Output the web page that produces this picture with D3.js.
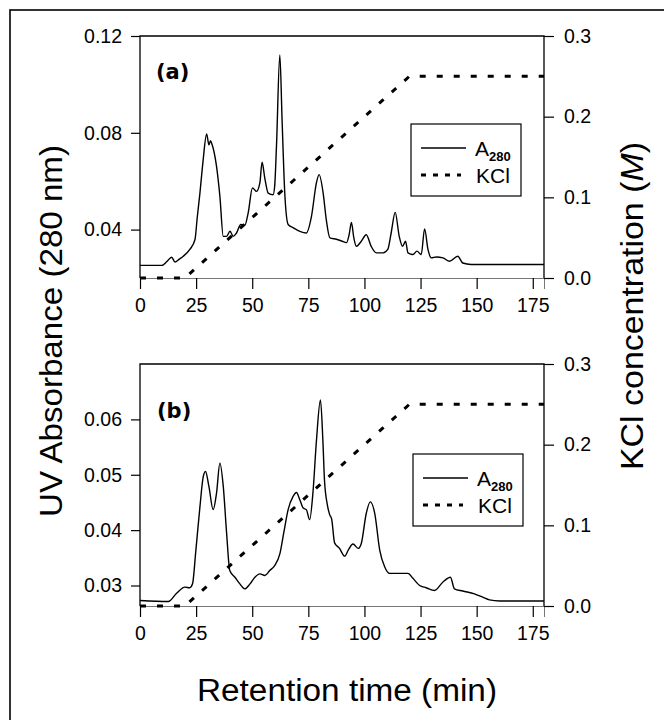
<!DOCTYPE html>
<html><head><meta charset="utf-8">
<script src="https://cdn.jsdelivr.net/npm/d3@7"></script>
<style>body{margin:0;background:#fff}svg{display:block}text{font-family:"Liberation Sans",Arial,sans-serif;fill:#000}</style>
</head><body><svg id="c" width="664" height="720"></svg>
<script>
// ---- data ----
const timeA = [0,9.7,12,14.1,15.6,17.5,19.3,22.2,24.5,25.5,26.7,28,29.7,30.7,31.4,32,34.1,35.6,37.1,38.6,40.1,41.5,43,44.9,46.7,48.2,50.1,51.9,53.4,54.4,55.6,57.1,59.3,60,60.8,62.3,63.3,64.5,66,68.2,71.2,74.1,76.4,78.6,79.8,81.6,83,84.6,87.5,89.8,92,93.2,94.2,95.2,96.4,98.6,100.8,103,105.3,108.3,110.4,111.9,113.7,115.5,117,118.3,119.4,121.6,123.4,125.3,126.8,128.3,129.8,132,135,137.9,141.6,143.8,147.5,180];
const absA = [0.0252,0.0252,0.0268,0.0286,0.0266,0.0278,0.029,0.0318,0.0359,0.045,0.0551,0.0675,0.0795,0.075,0.0767,0.0755,0.0661,0.0537,0.0372,0.0372,0.0393,0.0372,0.0386,0.0421,0.0418,0.0469,0.0572,0.0558,0.0593,0.0678,0.0613,0.0551,0.0544,0.0579,0.0743,0.1122,0.0854,0.0551,0.0421,0.0408,0.0393,0.0386,0.0455,0.0593,0.0627,0.0551,0.0441,0.0366,0.036,0.0353,0.0346,0.038,0.043,0.037,0.0331,0.0352,0.0379,0.0331,0.0304,0.0304,0.0318,0.0386,0.0471,0.0372,0.0331,0.0352,0.0304,0.0297,0.0311,0.0297,0.0403,0.0318,0.0283,0.0287,0.0283,0.0269,0.029,0.0262,0.0256,0.0256];
const timeB = [0,12.6,16.3,20,22.2,23.4,24.9,26.7,28.2,29.2,30.7,32.6,34.1,35.6,37.1,38.6,40,42.3,44.5,46.7,49,51.2,53.4,55.6,57.8,60,62.3,64,66,68.2,69.7,71.2,72.7,74.1,75.6,77.1,78.6,80.4,81.5,82.2,83.5,84.5,85.4,86.7,88.9,91.2,92.9,94.9,97.2,98.6,100.8,102.6,104.6,106.8,109,111.2,119.4,121.6,124.6,127.5,131.2,134.9,138.3,140.1,143.8,149,152.7,155.7,160.2,180];
const absB = [0.0273,0.0271,0.0286,0.0297,0.0296,0.0303,0.0364,0.0442,0.0497,0.0506,0.0479,0.0437,0.0467,0.0521,0.0479,0.0394,0.0327,0.0315,0.0303,0.0294,0.0303,0.0315,0.0321,0.0318,0.0327,0.0336,0.0357,0.0394,0.0437,0.0461,0.0468,0.0455,0.044,0.0437,0.0419,0.047,0.0561,0.0635,0.056,0.049,0.0445,0.0428,0.042,0.0377,0.0367,0.0353,0.0365,0.0375,0.0367,0.0376,0.043,0.0451,0.043,0.0364,0.0334,0.0322,0.0322,0.0313,0.03,0.0296,0.0291,0.0306,0.0315,0.0294,0.029,0.0285,0.0279,0.0274,0.0272,0.0272];
const kclTime = [0,20,120,180];
const kclConc = [0,0,0.25,0.25];
const xTicks = [0,25,50,75,100,125,150,175];
const leftTicksA = [0.04,0.08,0.12];
const leftTicksB = [0.03,0.04,0.05,0.06];
const rightTicks = [0,0.1,0.2,0.3];
const leftDomA = [0.02,0.12];
const leftDomB = [0.0263,0.07];
const rightDom = [0,0.3];
const panelLabels = ["(a)","(b)"];
const legendLabels = ["A","280","KCl"];

// ---- drawing ----
const svg = d3.select("#c");
svg.append("rect").attr("x",10).attr("y",10).attr("width",720).attr("height",760)
  .attr("fill","none").attr("stroke","#000").attr("stroke-width",1.6);

const x0 = 140, x1 = 544;
const x = d3.scaleLinear().domain([0,180]).range([x0,x1]);

const panels = [
  {top:36, bot:278, dom:leftDomA, ticks:leftTicksA, t:timeA, v:absA, lab:panelLabels[0], labX:156, labY:79, leg:{x:411,y:124}},
  {top:364, bot:606, dom:leftDomB, ticks:leftTicksB, t:timeB, v:absB, lab:panelLabels[1], labX:157, labY:418, leg:{x:413,y:454}}
];

panels.forEach(p => {
  const yL = d3.scaleLinear().domain(p.dom).range([p.bot,p.top]);
  const yR = d3.scaleLinear().domain(rightDom).range([p.bot,p.top]);
  const g = svg.append("g");

  const ax = g.append("g").attr("transform",`translate(0,${p.bot})`)
    .call(d3.axisBottom(x).tickValues(xTicks).tickSize(11).tickPadding(9).tickFormat(d3.format("d")));
  ax.select(".domain").attr("stroke","#777").attr("stroke-width",1);
  ax.selectAll(".tick line").attr("stroke","#000").attr("stroke-width",1.2);
  ax.selectAll("text").style("font-size","19.5px").attr("fill","#000");

  const al = g.append("g").attr("transform",`translate(${x0},0)`)
    .call(d3.axisLeft(yL).tickValues(p.ticks).tickSize(9).tickPadding(9).tickFormat(d3.format(".2f")));
  al.select(".domain").remove();
  al.selectAll(".tick line").attr("stroke","#000").attr("stroke-width",1.2);
  al.selectAll("text").style("font-size","19.5px").attr("fill","#000");

  const ar = g.append("g").attr("transform",`translate(${x1},0)`)
    .call(d3.axisRight(yR).tickValues(rightTicks).tickSize(10).tickPadding(10).tickFormat(d3.format(".1f")));
  ar.select(".domain").remove();
  ar.selectAll(".tick line").attr("stroke","#000").attr("stroke-width",1.2);
  ar.selectAll("text").style("font-size","19.5px").attr("fill","#000");

  g.append("path").attr("d",`M${x0},${p.bot}V${p.top}H${x1}V${p.bot}`)
    .attr("fill","none").attr("stroke","#000").attr("stroke-width",1.3);

  const kcl = kclTime.map((t,i)=>[t,kclConc[i]]);
  g.append("path").datum(kcl)
    .attr("d",d3.line().x(d=>x(d[0])).y(d=>yR(d[1])))
    .attr("fill","none").attr("stroke","#000").attr("stroke-width",3)
    .attr("stroke-dasharray","6,11");

  const pts = p.t.map((t,i)=>[t,p.v[i]]);
  g.append("path").datum(pts)
    .attr("d",d3.line().x(d=>x(d[0])).y(d=>yL(d[1])).curve(d3.curveMonotoneX))
    .attr("fill","none").attr("stroke","#000").attr("stroke-width",1.4).attr("stroke-linejoin","round");

  g.append("text").attr("x",p.labX).attr("y",p.labY).text(p.lab)
    .style("font-family","'DejaVu Sans',sans-serif").style("font-weight","bold").style("font-size","21px");

  const L = p.leg;
  const lg = g.append("g").attr("transform",`translate(${L.x},${L.y})`);
  lg.append("rect").attr("width",110).attr("height",72).attr("fill","#fff").attr("stroke","#000").attr("stroke-width",1.2);
  lg.append("line").attr("x1",10).attr("x2",55).attr("y1",24).attr("y2",24).attr("stroke","#000").attr("stroke-width",1.4);
  lg.append("line").attr("x1",10).attr("x2",50).attr("y1",51).attr("y2",51).attr("stroke","#000").attr("stroke-width",3).attr("stroke-dasharray","5,7");
  const t1 = lg.append("text").attr("x",64).attr("y",32).style("font-size","21px");
  t1.append("tspan").text(legendLabels[0]);
  t1.append("tspan").attr("dy",5).style("font-size","13px").style("font-weight","bold").text(legendLabels[1]);
  lg.append("text").attr("x",65).attr("y",59).style("font-size","21px").text(legendLabels[2]);
});

// axis titles
svg.append("text").attr("transform","translate(62,331) rotate(-90)").attr("text-anchor","middle")
  .attr("textLength",372).attr("lengthAdjust","spacingAndGlyphs")
  .style("font-size","31px").text("UV Absorbance (280 nm)");
const rt = svg.append("text").attr("transform","translate(643,306) rotate(-90)").attr("text-anchor","middle")
  .attr("textLength",328).attr("lengthAdjust","spacingAndGlyphs")
  .style("font-size","31px");
rt.append("tspan").text("KCl concentration (");
rt.append("tspan").style("font-style","italic").text("M");
rt.append("tspan").text(")");
svg.append("text").attr("x",347).attr("y",701).attr("text-anchor","middle")
  .attr("textLength",300).attr("lengthAdjust","spacingAndGlyphs")
  .style("font-size","31px").text("Retention time (min)");
</script></body></html>
